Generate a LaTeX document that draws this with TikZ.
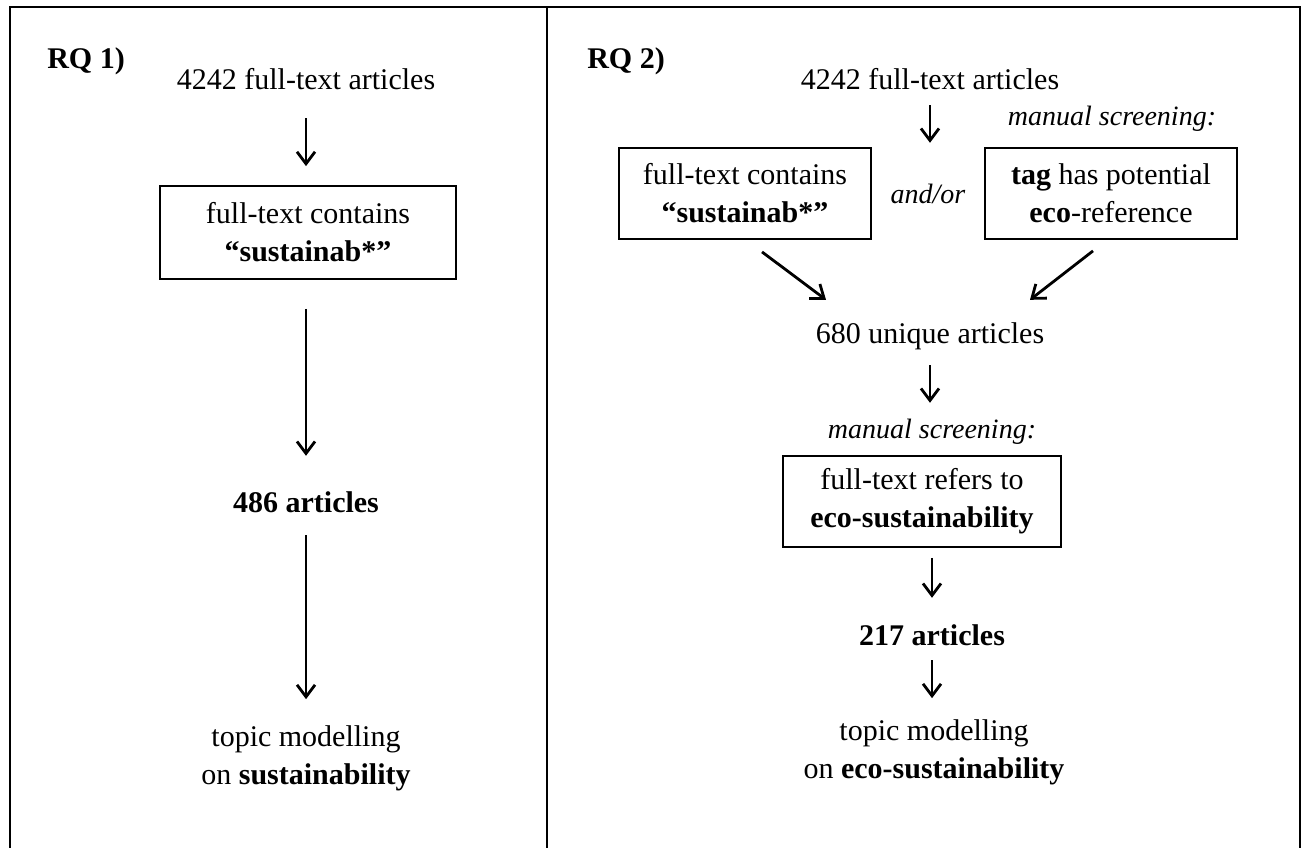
\documentclass[tikz,border=0pt]{standalone}
\usepackage{fontspec}
\setmainfont{Liberation Serif}
\usetikzlibrary{arrows.meta}
\begin{document}
\begin{tikzpicture}[x=1pt,y=-1pt,
  lbl/.style={inner sep=0pt, text height=21pt, text depth=7pt, anchor=base, font=\fontsize{30}{38}\selectfont},
  bld/.style={lbl, font=\fontsize{30}{38}\selectfont\bfseries},
  ital/.style={lbl, font=\fontsize{28}{34}\selectfont\itshape},
  multi/.style={inner sep=0pt, align=center, font=\fontsize{30}{38}\selectfont},
  stepbox/.style={draw, line width=1.8pt, inner sep=0pt, align=center, font=\fontsize{30}{38}\selectfont},
  arr/.style={line width=2.8pt, -{Straight Barb[length=12pt,width=18pt]}},
  frame/.style={line width=2.8pt}]
\useasboundingbox (0,0) rectangle (1303,847);
\clip (0,0) rectangle (1303,847);
% frame
\draw[frame] (10,870) -- (10,7) -- (1300,7) -- (1300,870);
\draw[frame] (547,7) -- (547,870);

% RQ 1
\node[bld] (rq1) at (86,68) {RQ 1)};
\node[lbl] (a1) at (306,89) {4242 full-text articles};
\node[stepbox, minimum width=296pt, minimum height=93pt] (b1) at (308,232.5) {full-text contains\\\textbf{“sustainab*”}};
\node[bld] (c1) at (306,512) {486 articles};
\node[multi] (d1) at (306,758) {topic modelling\\on \textbf{sustainability}};

\draw[arr, shorten <=22pt, shorten >=19pt] (a1.south) -- (a1.south |- b1.north);
\draw[arr, shorten <=29pt, shorten >=35pt] (c1.north |- b1.south) -- (c1.north);
\draw[arr, shorten <=16pt, shorten >=26pt] (c1.south) -- (c1.south |- d1.north);

% RQ 2
\node[bld] (rq2) at (626,68) {RQ 2)};
\node[lbl] (a2) at (930,89) {4242 full-text articles};
\node[ital] (ms1) at (1112,125) {manual screening:};
\node[stepbox, minimum width=252pt, minimum height=91pt] (b2l) at (745,193.5) {full-text contains\\\textbf{“sustainab*”}};
\node[ital] (andor) at (928,203) {and/or};
\node[stepbox, minimum width=252pt, minimum height=91pt] (b2r) at (1111,193.5) {\textbf{tag} has potential\\\textbf{eco}-reference};
\node[lbl] (u2) at (930,343) {680 unique articles};
\node[ital] (ms2) at (932,438) {manual screening:};
\node[stepbox, minimum width=278pt, minimum height=91pt] (b3) at (922,501.5) {full-text refers to\\\textbf{eco-sustainability}};
\node[bld] (c2) at (932,645) {217 articles};
\node[multi] (d2) at (934,752) {topic modelling\\on \textbf{eco-sustainability}};

\draw[arr, shorten <=9pt, shorten >=39pt] (a2.south) -- (a2.south |- andor.north);
\draw[arr] ([xshift=17pt,yshift=-12pt]b2l.south) -- ([xshift=-104pt,yshift=22pt]u2.north);
\draw[arr] ([xshift=-18pt,yshift=-11pt]b2r.south) -- ([xshift=100pt,yshift=22pt]u2.north);
\draw[arr, shorten <=15pt, shorten >=14pt] (u2.south) -- (u2.south |- ms2.north);
\draw[arr, shorten <=10pt, shorten >=26pt] (c2.north |- b3.south) -- (c2.north);
\draw[arr, shorten <=8pt, shorten >=21pt] (c2.south) -- (c2.south |- d2.north);
\end{tikzpicture}
\end{document}
